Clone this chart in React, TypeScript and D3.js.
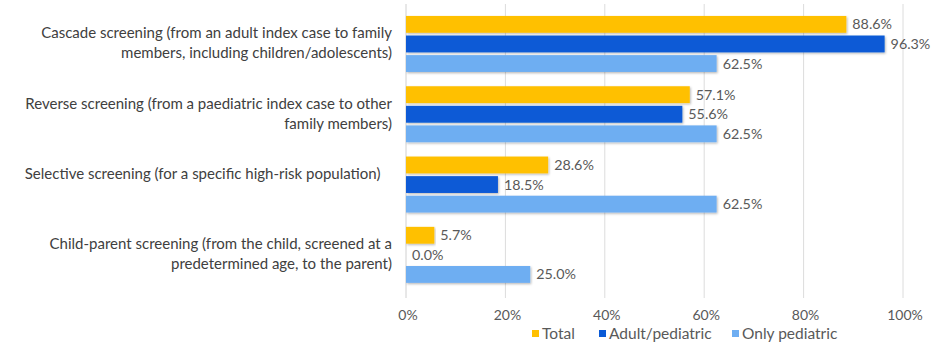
import React from "react";
import * as d3 from "d3";

const categories: string[][] = [
  ["Cascade screening (from an adult index case to family", "members, including children/adolescents)"],
  ["Reverse screening (from a paediatric index case to other", "family members)"],
  ["Selective screening (for a specific high-risk population)\u00A0\u00A0\u00A0", ""],
  ["Child-parent screening (from the child, screened at a", "predetermined age, to the parent)"],
];
const seriesNames = ["Total", "Adult/pediatric", "Only pediatric"];
const totalValues = [88.6, 57.1, 28.6, 5.7];
const adultPediatricValues = [96.3, 55.6, 18.5, 0.0];
const onlyPediatricValues = [62.5, 62.5, 62.5, 25.0];
const xTicks = [0, 20, 40, 60, 80, 100];
const colors = ["#FFC000", "#0A5AD6", "#6EAEF2"];

const W = 939;
const H = 345;
const FONT = "Lato, 'Open Sans', sans-serif";

export default function App() {
  const series = [totalValues, adultPediatricValues, onlyPediatricValues];
  const x = d3.scaleLinear().domain([0, 100]).range([406, 903]);
  const y = d3
    .scaleBand<number>()
    .domain(categories.map((_, i) => i))
    .range([8.8, 290])
    .paddingInner(0)
    .paddingOuter(0);
  const inner = d3
    .scaleBand<number>()
    .domain([0, 1, 2])
    .range([(y.bandwidth() - 56) / 2, (y.bandwidth() + 56) / 2])
    .paddingInner(0.14)
    .paddingOuter(0);
  const fmt = (v: number) => v.toFixed(1) + "%";
  const lineH = 20;

  const legendX = [532, 599, 732];

  return (
    <svg
      width={W}
      height={H}
      style={{ position: "absolute", left: 0, top: 0, background: "#fff" }}
      fontFamily={FONT}
    >
      <defs>
        <filter id="sh" x="-5%" y="-30%" width="110%" height="170%">
          <feDropShadow dx="1" dy="1.2" stdDeviation="0.9" floodColor="#000" floodOpacity="0.28" />
        </filter>
      </defs>
      {/* gridlines */}
      {xTicks.map((t) => (
        <line
          key={t}
          x1={x(t)}
          x2={x(t)}
          y1={4}
          y2={298}
          stroke={t === 0 ? "#d0d0d0" : "#dcdcdc"}
          strokeWidth={1}
        />
      ))}
      {/* bars */}
      {categories.map((_, ci) =>
        series.map((vals, si) => {
          const by = (y(ci) as number) + (inner(si) as number);
          const bh = inner.bandwidth();
          return (
            <g key={`${ci}-${si}`}>
              {vals[ci] > 0 && (
                <rect
                  x={x(0)}
                  y={by}
                  width={x(vals[ci]) - x(0)}
                  height={bh}
                  fill={colors[si]}
                  filter="url(#sh)"
                />
              )}
              <text
                x={x(vals[ci]) + 6}
                y={by + bh / 2}
                dy="0.35em"
                fontSize={14.3}
                fill="#595959"
              >
                {fmt(vals[ci])}
              </text>
            </g>
          );
        })
      )}
      {/* category labels */}
      {categories.map((lines, ci) => {
        const cy = (y(ci) as number) + y.bandwidth() / 2 - 1;
        const start = cy - ((lines.length - 1) * lineH) / 2;
        return (
          <text key={ci} x={392} textAnchor="end" fontSize={15} fill="#404040">
            {lines.map((l, li) => (
              <tspan key={li} x={392} y={start + li * lineH} dy="0.35em">
                {l}
              </tspan>
            ))}
          </text>
        );
      })}
      {/* x tick labels */}
      {xTicks.map((t) => (
        <text key={t} x={x(t) + 2} y={315} dy="0.35em" textAnchor="middle" fontSize={14} fill="#595959">
          {t}%
        </text>
      ))}
      {/* legend */}
      {seriesNames.map((name, i) => (
        <g key={name}>
          <rect x={legendX[i]} y={330} width={7} height={7} fill={colors[i]} />
          <text x={legendX[i] + 10} y={334} dy="0.35em" fontSize={15.5} fill="#595959">
            {name}
          </text>
        </g>
      ))}
    </svg>
  );
}
